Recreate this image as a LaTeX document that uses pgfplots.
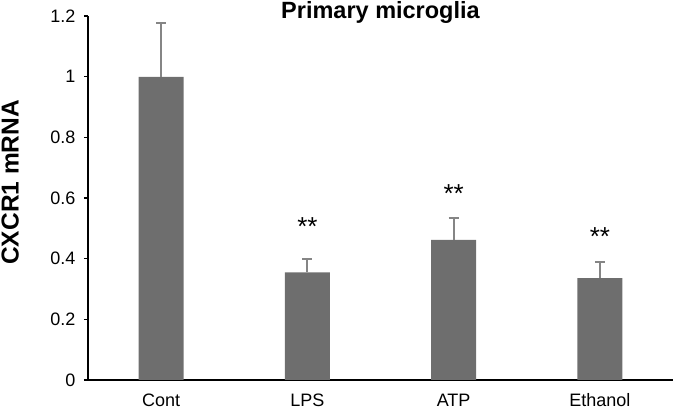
\documentclass[border=0pt]{standalone}
\usepackage{pgfplots}
\pgfplotsset{compat=1.18}
\usepackage{fontspec}
\setmainfont{Liberation Sans}
\definecolor{barc}{HTML}{6E6E6E}
\definecolor{errc}{HTML}{858585}
\begin{document}
\begin{tikzpicture}
\path[use as bounding box] (-88pt,-31pt) rectangle (585pt,380pt);
\begin{axis}[
  scale only axis,
  width=585pt, height=364pt,
  xmin=-0.5, xmax=3.5,
  ymin=0, ymax=1.2,
  axis x line*=bottom, axis y line*=left,
  axis line style={line width=2.6pt, black},
  xtick={0,1,2,3},
  xticklabels={Cont,LPS,ATP,Ethanol},
  major x tick style={draw=none},
  ytick={0,0.2,0.4,0.6,0.8,1,1.2},
  tick align=outside,
  major tick length=4pt,
  y tick style={line width=1.5pt, black},
  /pgf/number format/assume math mode=true,
  ticklabel style={font=\fontsize{18}{21}\selectfont},
  xticklabel style={text height=13pt, text depth=0pt, yshift=-6pt},
  yticklabel style={xshift=-5pt},
  title={\bfseries Primary microglia},
  title style={font=\fontsize{23.5}{28}\selectfont, inner sep=0pt, text height=16pt, at={(axis description cs:0.5,1)}, anchor=base, yshift=-8.5pt},
  ylabel={\bfseries CXCR1 mRNA},
  ylabel style={font=\fontsize{24.5}{28}\selectfont, inner sep=0pt, at={(axis description cs:-0.133,0.543)}, anchor=center},
  clip=false,
]
\addplot[ybar, bar width=45pt, fill=barc, draw=none,
  error bars/.cd, y dir=plus, y explicit,
  error bar style={line width=1.8pt, errc},
  error mark options={rotate=90, mark size=5pt, line width=1.8pt, errc}]
  coordinates {
  (0,0.999) +- (0,0.178)
  (1,0.355) +- (0,0.043)
  (2,0.462) +- (0,0.071)
  (3,0.336) +- (0,0.052)
  };
\node[anchor=base, font=\fontsize{26}{30}\selectfont] at (axis cs:1,0.476) {**};
\node[anchor=base, font=\fontsize{26}{30}\selectfont] at (axis cs:2,0.585) {**};
\node[anchor=base, font=\fontsize{26}{30}\selectfont] at (axis cs:3,0.443) {**};
\end{axis}
\end{tikzpicture}
\end{document}
